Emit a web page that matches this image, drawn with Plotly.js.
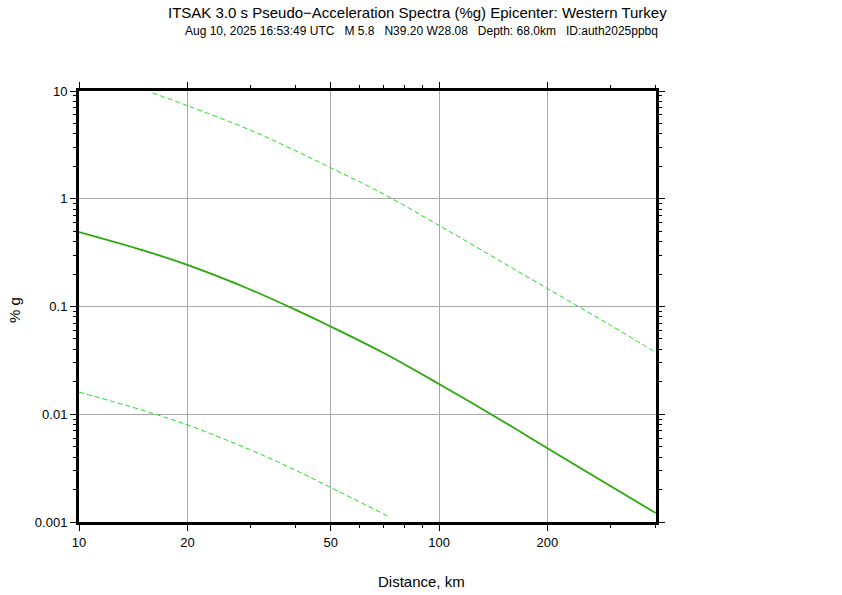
<!DOCTYPE html>
<html><head><meta charset="utf-8">
<script src="https://cdn.plot.ly/plotly-3.0.1.min.js"></script>
<style>html,body{margin:0;padding:0;background:#fff}</style>
</head><body><div id="chart" style="width:842px;height:595px"></div>
<script>
// Distances (km) and spectral values (%g)
const distMean = [10, 15, 20, 30, 40, 50, 70, 100, 150, 200, 300, 400];
const meanVals = [0.491, 0.334, 0.243, 0.143, 0.093, 0.0653, 0.0372, 0.0191, 0.00867, 0.00484, 0.00215, 0.00121];
const distUpper = [16, 20, 30, 40, 50, 70, 100, 150, 200, 300, 400];
const upperVals = [9.6, 7.31, 4.32, 2.78, 1.94, 1.11, 0.566, 0.257, 0.147, 0.0667, 0.0375];
const distLower = [10, 15, 20, 30, 40, 50, 70, 72];
const lowerVals = [0.01607, 0.0109, 0.00796, 0.00466, 0.00302, 0.00209, 0.00119, 0.00113];
const xTickVals = [10, 20, 50, 100, 200];
const xTickText = ['10', '20', '50', '100', '200'];
const xMinorVals = [30, 40, 60, 70, 80, 90, 300, 400];
const yTickVals = [0.001, 0.01, 0.1, 1, 10];
const yTickText = ['0.001', '0.01', '0.1', '1', '10'];
const yMinorVals = [];
[0.001, 0.01, 0.1, 1].forEach(d => { for (let k = 2; k <= 9; k++) yMinorVals.push(d * k); });
const titleText = 'ITSAK 3.0 s Pseudo\u2212Acceleration Spectra (%g) Epicenter: Western Turkey';
const subText = 'Aug 10, 2025 16:53:49 UTC   M 5.8   N39.20 W28.08   Depth: 68.0km   ID:auth2025ppbq';

const font = 'Liberation Sans, Arial, Helvetica, sans-serif';
const traces = [
  {x: distUpper, y: upperVals, mode: 'lines', line: {color: '#22dd22', width: 1, dash: '5px,3px', shape: 'spline'}, hoverinfo: 'skip'},
  {x: distLower, y: lowerVals, mode: 'lines', line: {color: '#22dd22', width: 1, dash: '5px,3px', shape: 'spline'}, hoverinfo: 'skip'},
  {x: distMean, y: meanVals, mode: 'lines', line: {color: '#2aa80a', width: 1.8, shape: 'spline'}, hoverinfo: 'skip'}
];
const axisCommon = {
  type: 'log', showline: true, linewidth: 3, linecolor: '#000', mirror: 'ticks',
  ticks: 'outside', ticklen: 6, tickwidth: 1, tickcolor: '#000',
  showgrid: true, gridcolor: '#a8a8a8', gridwidth: 1, zeroline: false,
  tickfont: {family: font, size: 13, color: '#000'}, tickmode: 'array'
};
const layout = {
  width: 842, height: 595,
  margin: {l: 79, r: 186, t: 91, b: 73},
  paper_bgcolor: '#fff', plot_bgcolor: '#fff',
  showlegend: false,
  font: {family: font, color: '#000'},
  xaxis: Object.assign({}, axisCommon, {
    range: [1, Math.log10(400.5)], tickvals: xTickVals, ticktext: xTickText,
    minor: {tickmode: 'array', tickvals: xMinorVals, ticks: 'outside', ticklen: 3, tickcolor: '#000', showgrid: false}
  }),
  yaxis: Object.assign({}, axisCommon, {
    range: [-3, 1], tickvals: yTickVals, ticktext: yTickText,
    minor: {tickmode: 'array', tickvals: yMinorVals, ticks: 'outside', ticklen: 3, tickcolor: '#000', showgrid: false}
  }),
  annotations: [
    {text: titleText, xref: 'paper', yref: 'paper', x: 0.5875, y: 1.181, xanchor: 'center', yanchor: 'middle', showarrow: false, font: {family: font, size: 15, color: '#000'}},
    {text: subText, xref: 'paper', yref: 'paper', x: 0.593, y: 1.139, xanchor: 'center', yanchor: 'middle', showarrow: false, font: {family: font, size: 12, color: '#000'}},
    {text: 'Distance, km', xref: 'paper', yref: 'paper', x: 0.593, y: -0.139, xanchor: 'center', yanchor: 'middle', showarrow: false, font: {family: font, size: 15, color: '#000'}},
    {text: '% g', xref: 'paper', yref: 'paper', x: -0.111, y: 0.492, xanchor: 'center', yanchor: 'middle', textangle: -90, showarrow: false, font: {family: font, size: 15, color: '#000'}}
  ]
};
Plotly.newPlot('chart', traces, layout, {displayModeBar: false, staticPlot: true});
</script></body></html>
